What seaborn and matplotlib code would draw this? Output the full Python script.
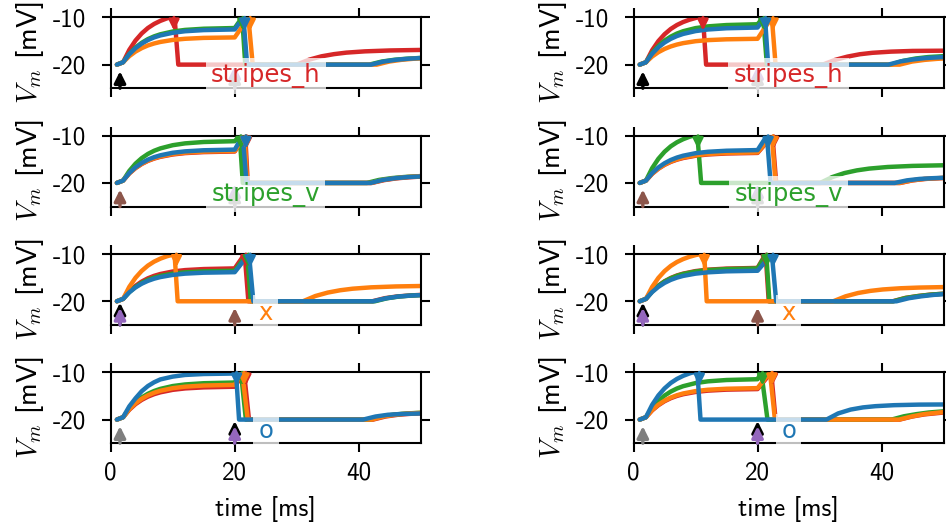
import matplotlib
matplotlib.use("Agg")
import matplotlib.pyplot as plt
import seaborn as sns

# ---------------------------------------------------------------------------
# membrane potential traces (time in ms, V_m in mV), one dict per panel
# each entry: colour -> (times, voltages, spike time)
# ---------------------------------------------------------------------------
RISE_T = [1, 2, 3, 4, 5, 6, 7, 8, 10, 12, 15, 20]

# left column
stripes_h_left = {
    "tab:red": ([1, 2, 3, 4, 5, 6, 7, 8, 9, 9.6, 10.3, 10.9, 30, 32, 34, 36, 38, 41, 45, 50],
                [-20, -19.5, -16.88, -14.9, -13.4, -12.25, -11.39, -10.74, -10.24, -10.0, -10.0, -20,
                 -20, -18.95, -18.24, -17.78, -17.46, -17.19, -17.0, -16.89], 10.2),
    "tab:green": (RISE_T + [21.2, 21.7, 41.7, 43.7, 45.7, 47.7, 50],
                  [-20, -19.5, -17.73, -16.39, -15.38, -14.6, -14.02, -13.58, -12.99, -12.65, -12.4, -12.25,
                   -10, -20, -20, -19.35, -18.98, -18.75, -18.58], 21.3),
    "tab:orange": (RISE_T + [22.2, 22.9, 42.9, 44.9, 46.9, 48.9, 50],
                   [-20, -19.5, -18.21, -17.24, -16.51, -15.94, -15.52, -15.2, -14.77, -14.53, -14.34, -14.24,
                    -10, -20, -20, -19.35, -18.98, -18.75, -18.68], 22.5),
    "tab:blue": (RISE_T + [21.4, 22.0, 42, 44, 46, 48, 50],
                 [-20, -19.5, -17.8, -16.52, -15.55, -14.8, -14.24, -13.82, -13.26, -12.93, -12.69, -12.55,
                  -10, -20, -20, -19.35, -18.98, -18.75, -18.6], 21.6),
}

stripes_v_left = {
    "tab:red": (RISE_T + [21.7, 22.1, 42.1, 44.1, 46.1, 48.1, 50],
                [-20, -19.5, -17.99, -16.86, -15.99, -15.33, -14.84, -14.47, -13.97, -13.68, -13.47, -13.34,
                 -10, -20, -20, -19.4, -19.02, -18.8, -18.65], 21.9),
    "tab:green": (RISE_T + [20.8, 21.3, 41.3, 43.3, 45.3, 47.3, 50],
                  [-20, -19.5, -17.46, -15.92, -14.75, -13.86, -13.19, -12.69, -12.01, -11.62, -11.33, -11.16,
                   -10, -20, -20, -19.35, -18.98, -18.75, -18.55], 21.0),
    "tab:orange": (RISE_T + [21.6, 22.0, 42.0, 44, 46, 48, 50],
                   [-20, -19.5, -17.97, -16.82, -15.94, -15.27, -14.77, -14.39, -13.88, -13.59, -13.37, -13.24,
                    -10, -20, -20, -19.35, -18.98, -18.72, -18.55], 21.8),
    "tab:blue": (RISE_T + [21.3, 21.9, 41.9, 43.9, 45.9, 47.9, 50],
                 [-20, -19.5, -17.9, -16.69, -15.77, -15.07, -14.54, -14.15, -13.61, -13.31, -13.08, -12.94,
                  -10, -20, -20, -19.35, -18.98, -18.75, -18.62], 21.8),
}

x_left = {
    "tab:red": (RISE_T + [21.6, 22.2, 42.2, 44.2, 46.2, 48.2, 50],
                [-20, -19.5, -17.92, -16.73, -15.83, -15.14, -14.62, -14.23, -13.7, -13.4, -13.18, -13.04,
                 -10, -20, -20, -19.35, -18.98, -18.78, -18.65], 21.8),
    "tab:green": (RISE_T + [22.0, 22.6, 42.6, 44.6, 46.6, 48.6, 50],
                  [-20, -19.5, -18.05, -16.96, -16.11, -15.47, -14.99, -14.63, -14.15, -13.87, -13.66, -13.54,
                   -10, -20, -20, -19.35, -18.98, -18.78, -18.7], 22.2),
    "tab:orange": ([1, 2, 3, 4, 5, 6, 7, 8, 9, 10, 10.3, 10.8, 31, 33, 35, 37, 39, 42, 46, 50],
                   [-20, -19.5, -16.95, -15.03, -13.57, -12.45, -11.61, -10.98, -10.5, -10.13, -10.0, -20,
                    -20, -18.89, -18.16, -17.67, -17.34, -17.05, -16.86, -16.77], 10.6),
    "tab:blue": (RISE_T + [22.3, 23.0, 42.3, 44.3, 46.3, 48.3, 50],
                 [-20, -19.5, -18.11, -17.07, -16.28, -15.68, -15.22, -14.88, -14.42, -14.15, -13.95, -13.84,
                  -10, -20, -20, -19.4, -19.0, -18.8, -18.7], 22.5),
}

o_left = {
    "tab:red": (RISE_T + [21.5, 22.3, 42.3, 44.3, 46.3, 48.3, 50],
                [-20, -19.5, -17.92, -16.73, -15.83, -15.14, -14.62, -14.23, -13.7, -13.4, -13.18, -13.04,
                 -10, -20, -20, -19.35, -18.98, -18.78, -18.68], 21.8),
    "tab:green": (RISE_T + [21.0, 21.8, 41.8, 43.8, 45.8, 47.8, 50],
                  [-20, -19.5, -17.7, -16.35, -15.32, -14.54, -13.95, -13.5, -12.9, -12.56, -12.3, -12.15,
                   -10, -20, -20, -19.3, -18.92, -18.7, -18.55], 21.2),
    "tab:orange": (RISE_T + [21.2, 22.1, 42.1, 44.1, 46.1, 48.1, 50],
                   [-20, -19.5, -17.82, -16.56, -15.6, -14.87, -14.32, -13.9, -13.35, -13.03, -12.79, -12.65,
                    -10, -20, -20, -19.3, -18.92, -18.7, -18.58], 21.5),
    "tab:blue": (RISE_T + [20.2, 20.7, 40.7, 42.7, 44.7, 47, 50],
                 [-20, -19.5, -17.2, -15.5, -14.0, -12.9, -12.1, -11.5, -10.9, -10.55, -10.35, -10.25,
                  -10.0, -20, -20, -19.35, -18.98, -18.8, -18.7], 20.3),
}

# right column
stripes_h_right = {
    "tab:red": ([1, 2, 3, 4, 5, 6, 7, 8, 9, 10, 10.3, 11.2, 11.7, 30.5, 32.5, 34.5, 36.5, 38.5, 41.5, 45, 50],
                [-20, -19.5, -16.95, -15.03, -13.57, -12.45, -11.61, -10.98, -10.5, -10.13, -10.0, -10.0, -20,
                 -20, -19.0, -18.3, -17.8, -17.5, -17.25, -17.1, -17.05], 11.2),
    "tab:green": (RISE_T + [20.9, 21.5, 41.5, 43.5, 45.5, 47.5, 50],
                  [-20, -19.5, -17.53, -16.05, -14.92, -14.07, -13.42, -12.93, -12.27, -11.9, -11.62, -11.45,
                   -10, -20, -20, -19.2, -18.7, -18.4, -18.2], 21.0),
    "tab:orange": (RISE_T + [22.3, 22.9, 42.9, 44.9, 46.9, 48.9, 50],
                   [-20, -19.5, -18.29, -17.37, -16.68, -16.15, -15.75, -15.45, -15.04, -14.81, -14.64, -14.53,
                    -10, -20, -20, -19.35, -19.0, -18.78, -18.7], 22.5),
    "tab:blue": (RISE_T + [21.2, 21.7, 41.1, 43.1, 45.1, 47.1, 50],
                 [-20, -19.5, -17.7, -16.35, -15.32, -14.54, -13.95, -13.5, -12.9, -12.56, -12.3, -12.15,
                  -10, -20, -20, -19.3, -18.9, -18.6, -18.4], 21.3),
}

stripes_v_right = {
    "tab:red": (RISE_T + [22.4, 23.0, 43.0, 45.0, 47.0, 50],
                [-20, -19.5, -18.07, -16.99, -16.17, -15.54, -15.07, -14.72, -14.24, -13.97, -13.76, -13.64,
                 -10, -20, -20, -19.45, -19.15, -18.95], 22.6),
    "tab:green": ([1, 2, 3, 4, 5, 6, 7, 8, 9, 9.6, 10.3, 10.9, 30.1, 32, 34, 36, 38, 41, 45, 50],
                  [-20, -19.5, -16.88, -14.9, -13.4, -12.25, -11.39, -10.74, -10.24, -10.0, -10.0, -20,
                   -20, -18.78, -17.91, -17.34, -16.96, -16.62, -16.39, -16.26], 10.4),
    "tab:orange": (RISE_T + [22.3, 22.9, 42.9, 44.9, 46.9, 50],
                   [-20, -19.5, -18.05, -16.96, -16.11, -15.47, -14.99, -14.63, -14.15, -13.87, -13.66, -13.54,
                    -10, -20, -20, -19.45, -19.15, -18.92], 22.5),
    "tab:blue": (RISE_T + [21.5, 22.1, 42.1, 44.1, 46.1, 48.1, 50],
                 [-20, -19.5, -17.92, -16.73, -15.83, -15.14, -14.62, -14.23, -13.7, -13.4, -13.18, -13.04,
                  -10, -20, -20, -19.45, -19.15, -19.0, -18.9], 21.7),
}

x_right = {
    "tab:red": (RISE_T + [21.3, 21.8, 41.8, 43.8, 45.8, 47.8, 50],
                [-20, -19.5, -17.9, -16.69, -15.77, -15.07, -14.54, -14.15, -13.61, -13.31, -13.08, -12.94,
                 -10, -20, -20, -19.3, -18.9, -18.6, -18.4], 21.4),
    "tab:green": (RISE_T + [21.4, 21.9, 41.9, 43.9, 45.9, 47.9, 50],
                  [-20, -19.5, -17.92, -16.73, -15.83, -15.14, -14.62, -14.23, -13.7, -13.4, -13.18, -13.04,
                   -10, -20, -20, -19.3, -18.9, -18.6, -18.4], 21.5),
    "tab:orange": ([1, 2, 3, 4, 5, 6, 7, 8, 9, 10, 10.8, 11.4, 11.8, 32.2, 34.2, 36.2, 38.2, 40.2, 43, 46, 50],
                   [-20, -19.5, -16.97, -15.07, -13.62, -12.52, -11.69, -11.07, -10.59, -10.22, -10.0, -10.0, -20,
                    -20, -18.95, -18.25, -17.8, -17.5, -17.25, -17.1, -17.0], 11.4),
    "tab:blue": (RISE_T + [22.3, 23.0, 42.4, 44.4, 46.4, 48.4, 50],
                 [-20, -19.5, -18.05, -16.96, -16.11, -15.47, -14.99, -14.63, -14.15, -13.87, -13.66, -13.54,
                  -10, -20, -20, -19.35, -18.95, -18.65, -18.5], 22.5),
}

o_right = {
    "tab:red": (RISE_T + [22.2, 22.9, 42.9, 44.9, 46.9, 50],
                [-20, -19.5, -18.05, -16.96, -16.11, -15.47, -14.99, -14.63, -14.15, -13.87, -13.66, -13.54,
                 -10, -20, -20, -19.35, -18.9, -18.5], 22.4),
    "tab:green": (RISE_T + [20.6, 21.6, 41.6, 43.6, 45.6, 47.6, 50],
                  [-20, -19.5, -17.53, -16.05, -14.92, -14.07, -13.42, -12.93, -12.27, -11.9, -11.62, -11.45,
                   -10, -20, -20, -19.3, -18.85, -18.5, -18.25], 20.8),
    "tab:orange": (RISE_T + [22.0, 22.8, 42.8, 44.8, 46.8, 50],
                   [-20, -19.5, -17.99, -16.86, -16.0, -15.34, -14.84, -14.47, -13.97, -13.68, -13.47, -13.34,
                    -10, -20, -20, -19.35, -18.85, -18.4], 22.3),
    "tab:blue": ([1, 2, 3, 4, 5, 6, 7, 8, 9, 9.6, 10.3, 10.8, 31.1, 33, 35, 37, 39, 42, 46, 50],
                 [-20, -19.5, -16.88, -14.9, -13.4, -12.25, -11.39, -10.74, -10.24, -10.0, -10.0, -20,
                  -20, -18.69, -17.88, -17.42, -17.16, -16.95, -16.83, -16.8], 10.6),
}

# input spikes: (time, colours stacked from back to front)
inputs_h = [(1.5, ["black"]), (20, ["tab:purple", "tab:gray"])]
inputs_v = [(1.5, ["tab:brown"]), (20, ["tab:purple", "tab:gray"])]
inputs_x = [(1.5, ["black", "tab:purple"]), (20, ["tab:brown"])]
inputs_o = [(1.5, ["tab:gray"]), (20, ["black", "tab:purple"])]

row_labels = ["stripes_h", "stripes_v", "x", "o"]
row_label_colors = ["tab:red", "tab:green", "tab:orange", "tab:blue"]
row_inputs = [inputs_h, inputs_v, inputs_x, inputs_o]
left_panels = [stripes_h_left, stripes_v_left, x_left, o_left]
right_panels = [stripes_h_right, stripes_v_right, x_right, o_right]

x_ticks = [0, 20, 40]
y_ticks = [-10, -20]
draw_order = ["tab:red", "tab:green", "tab:orange", "tab:blue"]

# ---------------------------------------------------------------------------
sns.set_theme(style="ticks")
plt.rcParams.update({
    "font.family": ["cmss10", "DejaVu Sans"],
    "mathtext.fontset": "cm",
    "axes.unicode_minus": False,
    "axes.edgecolor": "black",
    "axes.linewidth": 1.5,
    "xtick.color": "black",
    "ytick.color": "black",
    "text.color": "black",
    "axes.labelcolor": "black",
})

fig, axes = plt.subplots(4, 2, figsize=(9.46, 5.27), dpi=100)
fig.subplots_adjust(left=0.117, right=0.9975, top=0.967, bottom=0.159,
                    wspace=0.686, hspace=0.67)

for col, panels in enumerate([left_panels, right_panels]):
    for row, panel in enumerate(panels):
        ax = axes[row, col]
        for color in draw_order:
            t, v, t_spike = panel[color]
            sns.lineplot(x=t, y=v, ax=ax, color=color, lw=3.2, estimator=None,
                         sort=False, legend=False)
            ax.annotate("", xy=(t_spike, -12.8), xytext=(t_spike, -10.0),
                        arrowprops=dict(arrowstyle="-|>", color=color, lw=2.2,
                                        mutation_scale=15, shrinkA=0, shrinkB=0),
                        zorder=4)
        for t_in, colors in row_inputs[row]:
            n = len(colors)
            for i, c in enumerate(colors):
                tip = -21.4 + 1.1 * (n - 1 - i)
                ax.annotate("", xy=(t_in, tip), xytext=(t_in, -25.0),
                            arrowprops=dict(arrowstyle="-|>", color=c, lw=2.4,
                                            mutation_scale=17, shrinkA=0, shrinkB=0),
                            zorder=4)
        ax.text(25, -22.4, row_labels[row], ha="center", va="center",
                color=row_label_colors[row], fontsize=17.5, family="DejaVu Sans",
                bbox=dict(boxstyle="square,pad=0.22", fc="white", ec="none", alpha=0.75),
                zorder=10)

        ax.set_xlim(0, 50)
        ax.set_ylim(-25, -10)
        ax.set_xticks(x_ticks)
        ax.set_yticks(y_ticks)
        ax.tick_params(direction="out", length=6.5, width=1.5, top=True, right=True,
                       labelsize=18)
        ax.tick_params(axis="y", pad=11)
        ax.tick_params(axis="x", pad=7)
        for s in ax.spines.values():
            s.set_visible(True)
            s.set_linewidth(1.5)
        ax.set_ylabel(r"$V_m$ [mV]", fontsize=20.5, labelpad=5)
        if row == 3:
            ax.set_xlabel("time [ms]", fontsize=18.5, labelpad=8)
        else:
            ax.set_xlabel("")
            ax.tick_params(axis="x", labelbottom=False)

fig.savefig("out.png", dpi=100)
